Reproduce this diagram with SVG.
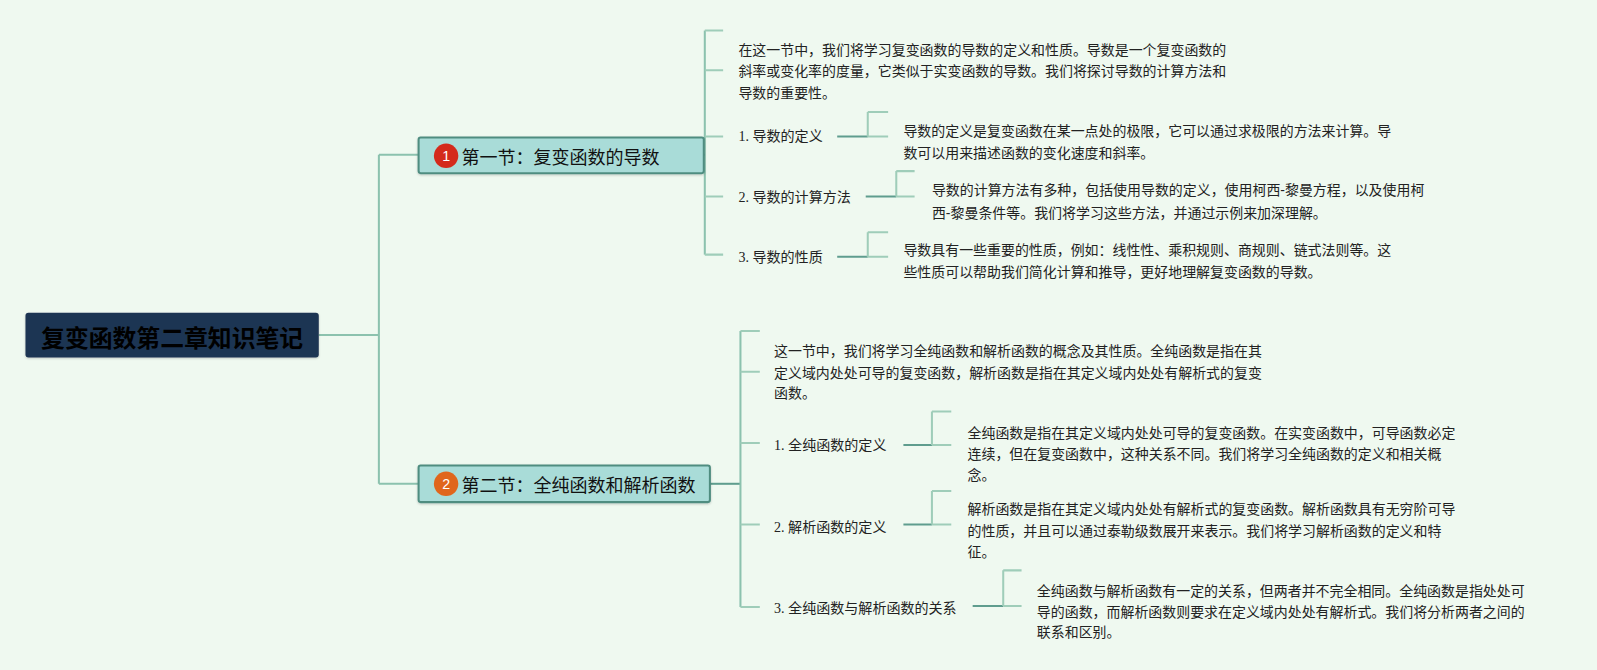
<svg xmlns="http://www.w3.org/2000/svg" width="1597" height="670" viewBox="0 0 1597 670">
<defs>
<style>
.bg{fill:#eff9f0}
.dk{stroke:#5f9d8e;stroke-width:2;fill:none}
.lt{stroke:#9fcdb9;stroke-width:2;fill:none}
.tr{stroke:#8cc2ae;stroke-width:2;fill:none}
.sec{fill:#a9dcd8;stroke:#4f8d80;stroke-width:2}
.sect{font-family:"Noto Sans CJK SC","Liberation Sans",sans-serif;font-size:17.7px;fill:#111}
.item{font-family:"Liberation Serif","Noto Sans CJK SC",serif;font-size:13.8px;fill:#222}
.desc{font-family:"Liberation Sans","Noto Sans CJK SC",sans-serif;font-size:13.7px;fill:#222}
.badge{font-family:"Liberation Sans",sans-serif;font-size:14px;fill:#fff}
</style>
<filter id="sh" x="-10%" y="-20%" width="120%" height="150%">
<feDropShadow dx="0" dy="1" stdDeviation="1" flood-color="#000" flood-opacity="0.2"/>
</filter>
</defs>
<rect class="bg" x="0" y="0" width="1597" height="670"/>
<g transform="scale(1.0185)">
<g id="connectors">
<path class="tr" d="M313 329H372M372 152V475M372 152H411M372 475H411"/>
<path class="tr" d="M692 30V250"/>
<path class="lt" d="M692 30H710M692 69H710M692 134H710M692 193H710M692 250H710"/>
<path class="dk" d="M691 152H692"/>
<path class="dk" d="M822 134H852M850 193H880M822 252H852"/>
<path class="lt" d="M852 110V134M852 110H872M852 134H872"/>
<path class="lt" d="M880 168V193M880 168H898M880 193H898"/>
<path class="lt" d="M852 228V252M852 228H872M852 252H872"/>
<path class="dk" d="M697 475H727"/>
<path class="tr" d="M727 325V596"/>
<path class="lt" d="M727 325H746M727 365H746M727 435H746M727 515H746M727 596H746"/>
<path class="dk" d="M887 437H915M887 515H915M955 595H985"/>
<path class="lt" d="M915 404V437M915 404H934M915 437H934"/>
<path class="lt" d="M915 482V515M915 482H934M915 515H934"/>
<path class="lt" d="M985 560V595M985 560H1003M985 595H1003"/>
</g>
<g id="root">
<rect x="25" y="307" width="288" height="44" rx="3" fill="#1f3553" filter="url(#sh)"/>
<text x="169" y="330" text-anchor="middle" dominant-baseline="central" font-family="Noto Sans CJK SC,Liberation Sans,sans-serif" font-weight="bold" font-size="23.4" fill="#000">复变函数第二章知识笔记</text>
</g>
<g id="sec1">
<rect class="sec" x="411" y="135" width="280" height="35" rx="2" filter="url(#sh)"/>
<circle cx="438" cy="153" r="12" fill="#d42a1b"/>
<text class="badge" x="438" y="153" text-anchor="middle" dominant-baseline="central">1</text>
<text class="sect" x="453" y="153" dominant-baseline="central">第一节：复变函数的导数</text>
</g>
<g id="sec1-desc">
<text class="desc" x="725" y="49" dominant-baseline="central"><tspan x="725">在这一节中，我们将学习复变函数的导数的定义和性质。导数是一个复变函数的</tspan><tspan x="725" dy="21">斜率或变化率的度量，它类似于实变函数的导数。我们将探讨导数的计算方法和</tspan><tspan x="725" dy="21">导数的重要性。</tspan></text>
</g>
<g id="sec1-item1">
<text class="item" x="725" y="134" dominant-baseline="central">1. 导数的定义</text>
</g>
<g id="sec1-item1-desc">
<text class="desc" x="887" y="129" dominant-baseline="central"><tspan x="887">导数的定义是复变函数在某一点处的极限，它可以通过求极限的方法来计算。导</tspan><tspan x="887" dy="21">数可以用来描述函数的变化速度和斜率。</tspan></text>
</g>
<g id="sec1-item2">
<text class="item" x="725" y="193" dominant-baseline="central">2. 导数的计算方法</text>
</g>
<g id="sec1-item2-desc">
<text class="desc" x="915" y="187" dominant-baseline="central"><tspan x="915">导数的计算方法有多种，包括使用导数的定义，使用柯西-黎曼方程，以及使用柯</tspan><tspan x="915" dy="22">西-黎曼条件等。我们将学习这些方法，并通过示例来加深理解。</tspan></text>
</g>
<g id="sec1-item3">
<text class="item" x="725" y="252" dominant-baseline="central">3. 导数的性质</text>
</g>
<g id="sec1-item3-desc">
<text class="desc" x="887" y="245" dominant-baseline="central"><tspan x="887">导数具有一些重要的性质，例如：线性性、乘积规则、商规则、链式法则等。这</tspan><tspan x="887" dy="22">些性质可以帮助我们简化计算和推导，更好地理解复变函数的导数。</tspan></text>
</g>
<g id="sec2">
<rect class="sec" x="411" y="457" width="286" height="36" rx="2" filter="url(#sh)"/>
<circle cx="438" cy="475" r="12" fill="#e0661c"/>
<text class="badge" x="438" y="475" text-anchor="middle" dominant-baseline="central">2</text>
<text class="sect" x="453" y="475" dominant-baseline="central">第二节：全纯函数和解析函数</text>
</g>
<g id="sec2-desc">
<text class="desc" x="760" y="345" dominant-baseline="central"><tspan x="760">这一节中，我们将学习全纯函数和解析函数的概念及其性质。全纯函数是指在其</tspan><tspan x="760" dy="21">定义域内处处可导的复变函数，解析函数是指在其定义域内处处有解析式的复变</tspan><tspan x="760" dy="20">函数。</tspan></text>
</g>
<g id="sec2-item1">
<text class="item" x="760" y="437" dominant-baseline="central">1. 全纯函数的定义</text>
</g>
<g id="sec2-item1-desc">
<text class="desc" x="950" y="425" dominant-baseline="central"><tspan x="950">全纯函数是指在其定义域内处处可导的复变函数。在实变函数中，可导函数必定</tspan><tspan x="950" dy="21">连续，但在复变函数中，这种关系不同。我们将学习全纯函数的定义和相关概</tspan><tspan x="950" dy="20">念。</tspan></text>
</g>
<g id="sec2-item2">
<text class="item" x="760" y="517" dominant-baseline="central">2. 解析函数的定义</text>
</g>
<g id="sec2-item2-desc">
<text class="desc" x="950" y="500" dominant-baseline="central"><tspan x="950">解析函数是指在其定义域内处处有解析式的复变函数。解析函数具有无穷阶可导</tspan><tspan x="950" dy="21">的性质，并且可以通过泰勒级数展开来表示。我们将学习解析函数的定义和特</tspan><tspan x="950" dy="21">征。</tspan></text>
</g>
<g id="sec2-item3">
<text class="item" x="760" y="597" dominant-baseline="central">3. 全纯函数与解析函数的关系</text>
</g>
<g id="sec2-item3-desc">
<text class="desc" x="1018" y="580" dominant-baseline="central"><tspan x="1018">全纯函数与解析函数有一定的关系，但两者并不完全相同。全纯函数是指处处可</tspan><tspan x="1018" dy="21">导的函数，而解析函数则要求在定义域内处处有解析式。我们将分析两者之间的</tspan><tspan x="1018" dy="20">联系和区别。</tspan></text>
</g>
</g>
</svg>
